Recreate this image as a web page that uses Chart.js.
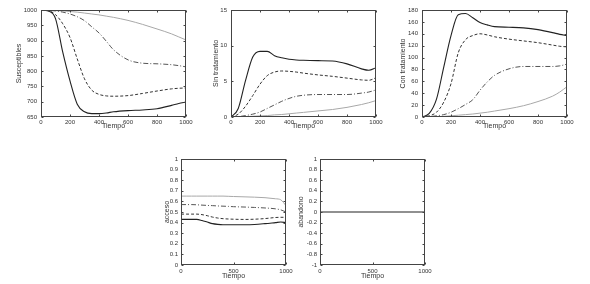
<!DOCTYPE html>
<html><head><meta charset="utf-8">
<script src="https://cdn.jsdelivr.net/npm/chart.js@4/dist/chart.umd.min.js"></script>
<style>
html,body{margin:0;padding:0;background:#fff;width:590px;height:284px;overflow:hidden;}
canvas{position:absolute;}
</style></head><body>
<canvas id="c1"></canvas><canvas id="c2"></canvas><canvas id="c3"></canvas><canvas id="c4"></canvas><canvas id="c5"></canvas>
<script>
// ---- data ----
const tiempo = [0,50,100,150,200,250,300,350,400,450,500,600,700,800,900,950,1000];

const susSolid   = [1000,997,972,862,768,692,667,661,661,663,667,671,673,677,688,694,699];
const susDashed  = [1000,998,985,955,910,840,775,738,724,719,718,720,727,735,742,744,745];
const susDashDot = [1000,999,997,993,987,978,965,945,925,898,870,837,826,824,821,818,814];
const susDotted  = [1000,999,998,997,995,993,990,987,984,980,976,966,953,938,922,912,902];

const sinSolid   = [0,1.2,5.1,8.4,9.2,9.2,8.6,8.3,8.1,8.0,7.95,7.9,7.85,7.45,6.75,6.55,6.9];
const sinDashed  = [0,0.4,1.5,3.0,4.6,5.8,6.3,6.45,6.4,6.3,6.15,5.9,5.7,5.45,5.2,5.15,5.5];
const sinDashDot = [0,0.05,0.2,0.4,0.7,1.2,1.7,2.2,2.6,2.9,3.05,3.15,3.15,3.15,3.35,3.5,3.8];
const sinDotted  = [0,0.02,0.05,0.1,0.15,0.2,0.3,0.35,0.45,0.55,0.65,0.85,1.05,1.35,1.75,2.0,2.3];

const conSolid   = [0,6,30,84,137,172,174,167,159,155,152,151,150,147,142,139,137];
const conDashed  = [0,2,8,25,56,108,130,137,140,138,135,131,128,125,121,119,118];
const conDashDot = [0,0.5,2,4,8,14,21,29,45,59,70,81,85,85,85,86,89];
const conDotted  = [0,0.2,0.5,1,2,3,4,5,6.5,8,10,14,19,26,35,42,51];

const accSolid   = [0.43,0.43,0.43,0.43,0.42,0.405,0.39,0.383,0.38,0.38,0.38,0.38,0.382,0.39,0.4,0.405,0.4];
const accDashed  = [0.48,0.48,0.48,0.48,0.475,0.465,0.452,0.443,0.437,0.434,0.432,0.43,0.432,0.438,0.448,0.45,0.45];
const accDashDot = [0.57,0.57,0.57,0.568,0.565,0.562,0.56,0.557,0.555,0.553,0.55,0.547,0.543,0.538,0.53,0.52,0.5];
const accDotted  = [0.65,0.65,0.65,0.65,0.65,0.65,0.65,0.65,0.65,0.648,0.646,0.643,0.64,0.635,0.625,0.615,0.56];

const abaTiempo = [0,1000];
const abandono  = [0,0];

const xTicksTop = [0,200,400,600,800,1000];
const xTicksBot = [0,500,1000];
const yTicksSus = [650,700,750,800,850,900,950,1000];
const yTicksSin = [0,5,10,15];
const yTicksCon = [0,20,40,60,80,100,120,140,160,180];
const yTicksAcc = [0,0.1,0.2,0.3,0.4,0.5,0.6,0.7,0.8,0.9,1];
const yLabelsAcc = ['0','0.1','0.2','0.3','0.4','0.5','0.6','0.7','0.8','0.9','1'];
const yTicksAba = [-1,-0.8,-0.6,-0.4,-0.2,0,0.2,0.4,0.6,0.8,1];
const yLabelsAba = ['-1','-0.8','-0.6','-0.4','-0.2','0','0.2','0.4','0.6','0.8','1'];

// ---- styles ----
const STY = [
  {borderColor:'#222', borderWidth:1.1, borderDash:[]},
  {borderColor:'#333', borderWidth:1, borderDash:[3,2]},
  {borderColor:'#555', borderWidth:1, borderDash:[5,2,1,2]},
  {borderColor:'#a8a8a8', borderWidth:1, borderDash:[]}
];
Chart.defaults.font.family = '"Liberation Sans", Arial, sans-serif';
Chart.defaults.font.size = 6;
Chart.defaults.color = '#333';

const framePlugin = {
  id:'frame',
  afterDatasetsDraw(chart){
    const {ctx, chartArea:a, scales} = chart;
    const L=Math.round(a.left)+0.5, R=Math.round(a.right)-0.5, T=Math.round(a.top)+0.5, B=Math.round(a.bottom)-0.5;
    ctx.save();
    ctx.strokeStyle='#444'; ctx.lineWidth=1; ctx.setLineDash([]);
    ctx.strokeRect(L,T,R-L,B-T);
    const tl=2;
    ctx.beginPath();
    scales.x.ticks.forEach(t=>{
      const p=Math.round(scales.x.getPixelForValue(t.value))+0.5;
      ctx.moveTo(p,B); ctx.lineTo(p,B-tl);
      ctx.moveTo(p,T); ctx.lineTo(p,T+tl);
    });
    scales.y.ticks.forEach(t=>{
      const p=Math.round(scales.y.getPixelForValue(t.value))+0.5;
      ctx.moveTo(L,p); ctx.lineTo(L+tl,p);
      ctx.moveTo(R,p); ctx.lineTo(R-tl,p);
    });
    ctx.stroke();
    ctx.restore();
  }
};

function makeChart(id, g, xs, series, xTicks, yTicks, yLabels, yTitle){
  const cv=document.getElementById(id);
  const W=g.wy+g.pw+g.pr, H=g.pt+g.ph+g.hx;
  cv.width=W; cv.height=H;
  cv.style.width=W+'px'; cv.style.height=H+'px';
  cv.style.left=(g.px-g.wy)+'px'; cv.style.top=(g.py-g.pt)+'px';
  const datasets=series.map((ys,i)=>Object.assign({
    data: xs.map((x,k)=>({x:x,y:ys[k]})),
    pointRadius:0, tension:0.4, cubicInterpolationMode:'monotone', fill:false
  }, STY[i]));
  return new Chart(cv,{
    type:'line',
    data:{datasets},
    options:{
      responsive:false, animation:false, devicePixelRatio:1,
      layout:{padding:{left:0,top:g.pt,right:g.pr,bottom:0}},
      plugins:{legend:{display:false}, tooltip:{enabled:false}},
      scales:{
        x:{type:'linear', min:xTicks[0], max:xTicks[xTicks.length-1],
           grid:{display:false, drawTicks:false}, border:{display:false},
           afterBuildTicks:s=>{s.ticks=xTicks.map(v=>({value:v}));},
           ticks:{padding:g.xtp, maxRotation:0, autoSkip:false, callback:(v)=>String(v)},
           title:{display:true, text:'Tiempo', font:{size:7, lineHeight:1}, padding:{top:0,bottom:0}},
           afterFit:s=>{s.height=g.hx; s.paddingLeft=0; s.paddingRight=0;}},
        y:{type:'linear', min:yTicks[0], max:yTicks[yTicks.length-1],
           grid:{display:false, drawTicks:false}, border:{display:false},
           afterBuildTicks:s=>{s.ticks=yTicks.map(v=>({value:v}));},
           ticks:{padding:g.ytp, autoSkip:false, callback:(v,i)=>yLabels[i]},
           title:{display:true, text:yTitle, font:{size:7, lineHeight:1}, padding:{top:0,bottom:0}},
           afterFit:s=>{s.width=g.wy; s.paddingTop=0; s.paddingBottom=0;}}
      }
    },
    plugins:[framePlugin]
  });
}

const topG = {py:10, ph:107, pt:8, hx:13, pr:14, xtp:2, ytp:4, pw:145};
makeChart('c1', Object.assign({}, topG, {px:41, wy:25}), tiempo,
  [susSolid,susDashed,susDashDot,susDotted], xTicksTop, yTicksSus, yTicksSus.map(String), 'Susceptibles');
makeChart('c2', Object.assign({}, topG, {px:231, wy:18}), tiempo,
  [sinSolid,sinDashed,sinDashDot,sinDotted], xTicksTop, yTicksSin, yTicksSin.map(String), 'Sin tratamiento');
makeChart('c3', Object.assign({}, topG, {px:422, wy:22}), tiempo,
  [conSolid,conDashed,conDashDot,conDotted], xTicksTop, yTicksCon, yTicksCon.map(String), 'Con tratamiento');

const botG = {py:159, ph:106, pt:8, hx:15, pr:14, xtp:3, ytp:3, pw:105};
makeChart('c4', Object.assign({}, botG, {px:181, wy:17}), tiempo,
  [accSolid,accDashed,accDashDot,accDotted], xTicksBot, yTicksAcc, yLabelsAcc, 'acceso');
makeChart('c5', Object.assign({}, botG, {px:320, wy:22}), abaTiempo,
  [abandono], xTicksBot, yTicksAba, yLabelsAba, 'abandono');
</script>
</body></html>
